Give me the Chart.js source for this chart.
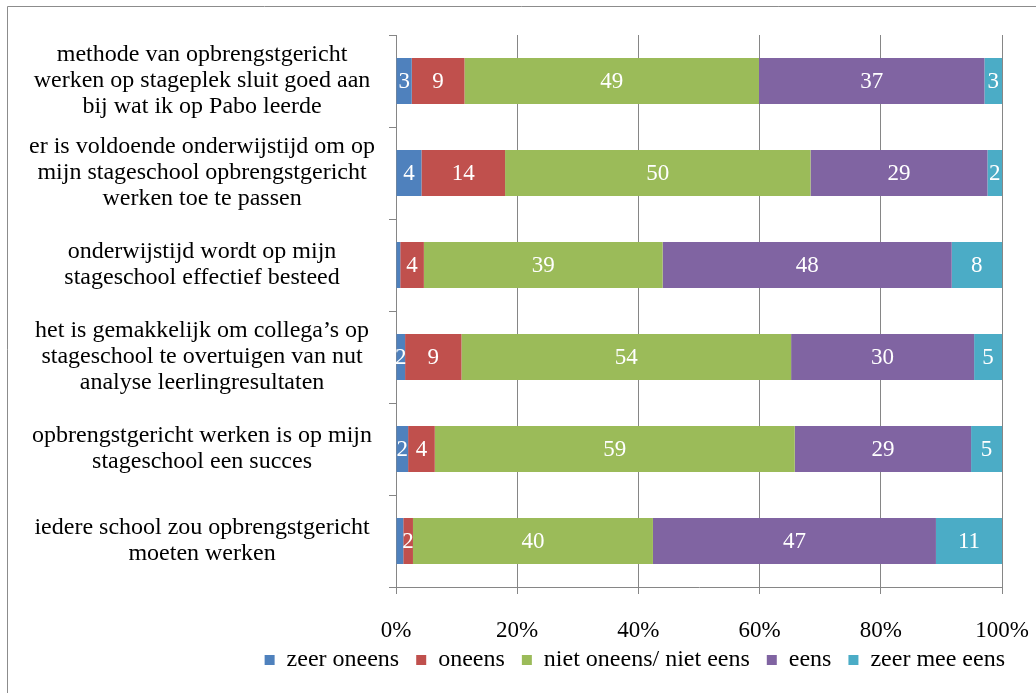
<!DOCTYPE html>
<html>
<head>
<meta charset="utf-8">
<script src="https://cdn.jsdelivr.net/npm/chart.js@4/dist/chart.umd.min.js"></script>
<style>
  html, body { margin: 0; padding: 0; background: #fff; }
  #wrap { width: 1036px; height: 693px; position: relative; }
</style>
</head>
<body>
<div id="wrap"><canvas id="myChart"></canvas></div>
<script>
// statements (top to bottom)
const categories = [
  ["methode van opbrengstgericht", "werken op stageplek sluit goed aan", "bij wat ik op Pabo leerde"],
  ["er is voldoende onderwijstijd om op", "mijn stageschool opbrengstgericht", "werken toe te passen"],
  ["onderwijstijd wordt op mijn", "stageschool effectief besteed"],
  ["het is gemakkelijk om collega\u2019s op", "stageschool te overtuigen van nut", "analyse leerlingresultaten"],
  ["opbrengstgericht werken is op mijn", "stageschool een succes"],
  ["iedere school zou opbrengstgericht", "moeten werken"]
];

const seriesNames = ["zeer oneens", "oneens", "niet oneens/ niet eens", "eens", "zeer mee eens"];

// percentages per statement
const zeerOneens = [2.6, 4.2, 0.7, 1.5, 2.0, 1.2];
const oneens = [8.7, 13.8, 3.9, 9.3, 4.4, 1.6];
const neutraal = [48.6, 50.4, 39.4, 54.4, 59.4, 39.6];
const eens = [37.2, 29.2, 47.7, 30.2, 29.1, 46.7];
const zeerMeeEens = [2.9, 2.4, 8.3, 4.6, 5.1, 10.9];

const xTicks = [0, 20, 40, 60, 80, 100];

const colors = ['#4F81BD', '#C0504D', '#9BBB59', '#8064A2', '#4BACC6'];
const gray = '#868686';

let series = [zeerOneens, oneens, neutraal, eens, zeerMeeEens];

// 100% stacked: normalise each row
let rowTotals = categories.map((c, j) => series.reduce((s, arr) => s + arr[j], 0));

let datasets = series.map((arr, i) => {
  return {
    label: seriesNames[i],
    data: arr.map((v, j) => v / rowTotals[j] * 100),
    raw: arr,
    backgroundColor: colors[i],
    borderWidth: 0,
    categoryPercentage: 1,
    barPercentage: 0.5,
  };
});

const valueLabels = {
  id: 'valueLabels',
  afterDatasetsDraw(chart) {
    const ctx = chart.ctx;
    ctx.save();
    ctx.fillStyle = '#fff';
    ctx.font = "23px 'Liberation Serif', serif";
    ctx.textAlign = 'center';
    ctx.textBaseline = 'middle';
    chart.data.datasets.forEach((ds, i) => {
      chart.getDatasetMeta(i).data.forEach((bar, j) => {
        let v = ds.raw[j];
        if (v < 1.5) return;
        ctx.fillText(Math.round(v), (bar.x + bar.base) / 2, bar.y + 1);
      });
    });
    ctx.restore();
  }
};

// frame of the chart (only top and left edge are in the picture)
const frame = {
  id: 'frame',
  beforeDraw(chart) {
    const ctx = chart.ctx;
    ctx.save();
    ctx.strokeStyle = '#8c8c8c';
    ctx.lineWidth = 1;
    ctx.beginPath();
    ctx.moveTo(7.5, 693);
    ctx.lineTo(7.5, 6.5);
    ctx.lineTo(1036, 6.5);
    ctx.stroke();
    ctx.restore();
  }
};

// legend sits closer to the axis and a bit more to the right
const legendShift = {
  id: 'legendShift',
  afterLayout(chart) {
    chart.legend.left += 20;
    chart.legend.right += 20;
    chart.legend.top -= 11;
    chart.legend.bottom -= 11;
  }
};

Chart.defaults.font.family = "'Liberation Serif', 'Times New Roman', serif";
Chart.defaults.font.size = 23;
Chart.defaults.color = '#000';

const ctx = document.getElementById("myChart");
let chart = new Chart(ctx, {
  type: "bar",
  data: {
    labels: categories,
    datasets: datasets,
  },
  plugins: [frame, valueLabels, legendShift],
  options: {
    indexAxis: 'y',
    responsive: true,
    maintainAspectRatio: false,
    animation: false,
    layout: {
      padding: { top: 35, right: 34, bottom: 0, left: 0 }
    },
    plugins: {
      legend: {
        position: 'bottom',
        align: 'end',
        labels: {
          boxWidth: 10,
          boxHeight: 10,
          padding: 17,
          font: { size: 24 },
        }
      },
      tooltip: { enabled: false },
    },
    scales: {
      x: {
        stacked: true,
        min: 0,
        max: 100,
        afterBuildTicks: (scale) => {
          scale.ticks = xTicks.map((v) => ({ value: v }));
        },
        ticks: {
          callback: (v) => v + '%',
          padding: 25,
          maxRotation: 0,
          font: { size: 23, lineHeight: 1 },
        },
        grid: { color: gray, tickLength: 7 },
        border: { color: gray },
        afterFit: (scale) => {
          scale.height = 55;
          scale.paddingLeft = 0;
          scale.paddingRight = 0;
        },
      },
      y: {
        stacked: true,
        grid: { drawOnChartArea: false, tickLength: 7, color: gray, offset: true },
        border: { color: gray },
        ticks: {
          crossAlign: 'center',
          padding: 14,
          autoSkip: false,
          font: { size: 24, lineHeight: 1.08 },
        },
        afterFit: (scale) => {
          scale.width = 396;
          scale.paddingTop = 0;
          scale.paddingBottom = 0;
        },
      },
    },
  },
});
</script>
</body>
</html>
